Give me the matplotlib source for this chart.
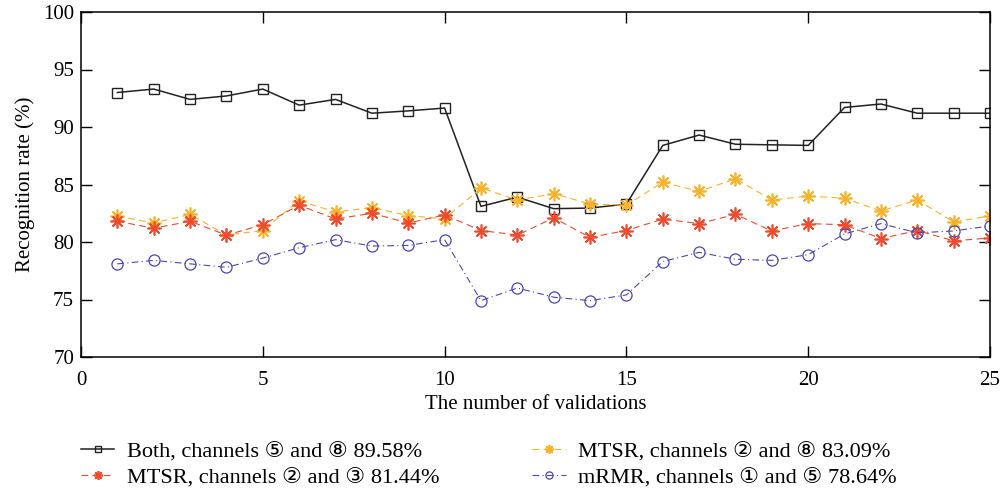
import numpy as np
import matplotlib
matplotlib.use('Agg')
from matplotlib import pyplot as plt

plt.rcParams['font.family'] = ['Liberation Serif', 'DejaVu Serif', 'DejaVu Sans']

validations = list(range(1, 26))

both_5_8 = [93.0, 93.3, 92.4, 92.7, 93.3, 91.9, 92.4, 91.2, 91.4, 91.65,
            83.1, 83.9, 82.9, 82.95, 83.3, 88.4, 89.3, 88.5, 88.45, 88.4,
            91.7, 92.0, 91.2, 91.2, 91.2]
mtsr_2_8 = [82.26, 81.65, 82.4, 80.6, 81.0, 83.6, 82.6, 83.0, 82.3, 82.0,
            84.7, 83.65, 84.2, 83.3, 83.2, 85.2, 84.4, 85.5, 83.65, 84.0,
            83.8, 82.7, 83.65, 81.75, 82.26]
mtsr_2_3 = [81.8, 81.2, 81.8, 80.6, 81.5, 83.2, 82.0, 82.5, 81.65, 82.35,
            81.0, 80.6, 82.1, 80.4, 81.0, 82.0, 81.6, 82.4, 80.96, 81.6,
            81.5, 80.3, 81.0, 80.1, 80.35]
mrmr_1_5 = [78.1, 78.4, 78.1, 77.8, 78.6, 79.5, 80.2, 79.65, 79.7, 80.2,
            74.9, 76.0, 75.2, 74.9, 75.4, 78.3, 79.1, 78.5, 78.4, 78.9,
            80.7, 81.6, 80.8, 80.96, 81.4]

labels = ['Both, channels \u2464 and \u2467 89.58%',
          'MTSR, channels \u2461 and \u2467 83.09%',
          'MTSR, channels \u2461 and \u2462 81.44%',
          'mRMR, channels \u2460 and \u2464 78.64%']

fig = plt.figure(figsize=(10.01, 4.92), dpi=100)
ax = fig.add_axes([81/1001, 135/492, 909/1001, 345/492])

asterisk = (8, 2, 0)
h1, = ax.plot(validations, both_5_8, color='#222222', linestyle='-', lw=1.1,
              marker='s', ms=7, mfc='none', mec='#222222', mew=1.0)
h2, = ax.plot(validations, mtsr_2_8, color='#F9B22A', linestyle=(0, (6, 4)), lw=0.8,
              marker=asterisk, ms=10, mec='#F9B22A', mew=1.2)
h3, = ax.plot(validations, mtsr_2_3, color='#EE4A2E', linestyle=(0, (6, 4)), lw=0.8,
              marker=asterisk, ms=10, mec='#EE4A2E', mew=1.2)
h4, = ax.plot(validations, mrmr_1_5, color='#4B46B0', linestyle=(0, (6, 3, 1, 3)), lw=0.8,
              marker='o', ms=8, mfc='none', mec='#4B46B0', mew=0.9)

ax.set_xlim(0, 25)
ax.set_ylim(70, 100)
ax.set_xticks([0, 5, 10, 15, 20, 25])
ax.set_yticks([70, 75, 80, 85, 90, 95, 100])
ax.tick_params(direction='in', length=8, width=1, labelsize=15, top=True, right=True)
ax.tick_params(axis='x', pad=10)
ax.tick_params(axis='y', pad=5)
for s in ax.spines.values():
    s.set_linewidth(1.1)
ax.set_xlabel('The number of validations', fontsize=15, labelpad=4)
ax.set_ylabel('Recognition rate (%)', fontsize=15, labelpad=6)

# legend fills column-wise, so order handles to get the row layout of the original
fig.legend([h1, h3, h2, h4], [labels[0], labels[2], labels[1], labels[3]],
           loc='upper left', bbox_to_anchor=(61/1001, 1 - 421/492),
           ncol=2, frameon=False, fontsize=16, handlelength=1.5, handletextpad=0.55,
           columnspacing=4.2, labelspacing=0.25, markerscale=0.65)

fig.savefig('out.png', dpi=100)
